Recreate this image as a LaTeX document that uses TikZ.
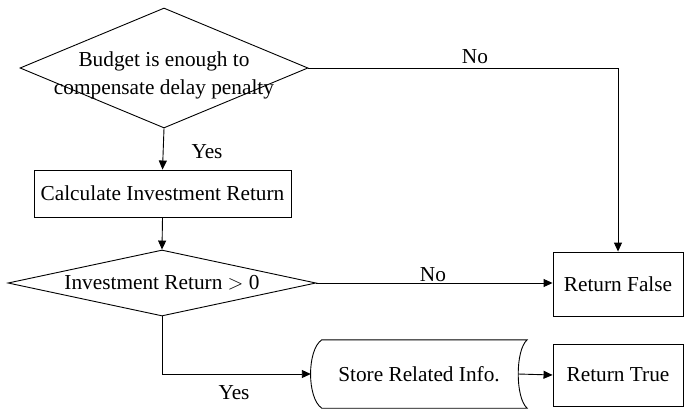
\documentclass[tikz,border=0pt]{standalone}
\usepackage{fontspec}
\setmainfont{Liberation Serif}
\usetikzlibrary{shapes.geometric,arrows.meta,calc}

\tikzset{
  flow/.style={line width=0.9pt, -{Triangle[length=9pt,width=8pt]}},
  txt/.style={font=\fontsize{21.3pt}{28pt}\selectfont},
  process/.style={draw, line width=0.9pt, rectangle, inner sep=0pt, txt},
  decision/.style={draw, line width=0.9pt, diamond, inner sep=0pt},
  dtext/.style={txt, align=center, inner sep=0pt},
  lbl/.style={txt, inner sep=0pt},
}

\begin{document}
\begin{tikzpicture}[x=1pt, y=-1pt]
  \useasboundingbox (0,0) rectangle (684,409);

  % decisions
  \node[decision, minimum width=288pt, minimum height=120pt,
        label={[dtext, yshift=-7pt]center:{Budget is enough to\\compensate delay penalty}}]
        (budget) at (164,68) {};
  \node[decision, minimum width=308pt, minimum height=66pt,
        label={[dtext]center:{Investment Return \(>\) 0}}]
        (positive) at (162,283) {};

  % processes
  \node[process, minimum width=257pt, minimum height=47pt] (calc) at (162.5,193.5)
        {Calculate Investment Return};
  \node[process, minimum width=130pt, minimum height=64pt] (false) at (618,284)
        {Return False};
  \node[process, minimum width=130pt, minimum height=62pt] (true) at (618,375)
        {Return True};

  % stored data
  \node[txt, minimum width=216pt, minimum height=68pt, inner sep=0pt] (store) at (419,374)
        {Store Related Info.};
  \draw[line width=0.9pt]
    ($(store.north west)+(11,0)$)
      .. controls ($(store.north west)+(-4,10)$) and ($(store.south west)+(-4,-10)$)
      .. ($(store.south west)+(11,0)$)
    -- (store.south east)
      .. controls ($(store.south east)+(-12,-10)$) and ($(store.north east)+(-12,10)$)
      .. (store.north east)
    -- cycle;
  \coordinate (storeout) at ($(store.east)+(-9,0)$);

  % connectors
  \draw[flow] (budget.south) -- (calc.north);
  \draw[flow] (budget.east) -| (false.north);
  \draw[flow] (calc.south) -- (positive.north);
  \draw[flow] (positive.east) -- (positive.east -| false.west);
  \draw[flow] (positive.south) |- (store.west);
  \draw[flow] (storeout) -- (true.west);

  % branch labels
  \node[lbl] (yes1) at (207,152) {Yes};
  \node[lbl] (no1) at (475,57) {No};
  \node[lbl] (no2) at (433,275) {No};
  \node[lbl] (yes2) at (234,393) {Yes};
\end{tikzpicture}
\end{document}
